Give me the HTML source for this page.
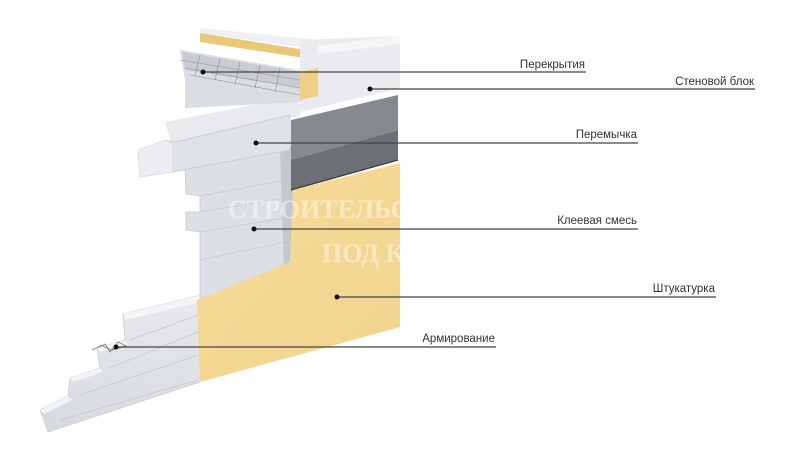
<!DOCTYPE html>
<html><head><meta charset="utf-8"><style>
html,body{margin:0;padding:0;background:#fff;}
svg{display:block;}
text{font-family:"Liberation Sans","DejaVu Sans",sans-serif;font-size:11.5px;fill:#333;}
</style></head><body>
<svg width="800" height="465" viewBox="0 0 800 465" xmlns="http://www.w3.org/2000/svg">
<defs>
<linearGradient id="lg" x1="0" y1="0" x2="0" y2="1"><stop offset="0" stop-color="#eceef1"/><stop offset="1" stop-color="#d6d9de"/></linearGradient>
<linearGradient id="yl" x1="0" y1="0" x2="1" y2="1"><stop offset="0" stop-color="#f5da98"/><stop offset="1" stop-color="#f2d48e"/></linearGradient>
</defs>
<!-- lower stepped wall -->
<polygon points="40,410 68,396 70,378 100,368 97,348 125,340 123,314 197,296 290,262 292,272 200,382 48,432" fill="url(#lg)" stroke="#c8ccd2" stroke-width="0.8"/>
<polygon points="123,314 197,296 290,262 292,268 200,302 125,320" fill="#f4f5f7"/>
<polygon points="40,410 68,396 72,400 44,414" fill="#f2f3f5"/>
<polygon points="70,378 100,368 103,372 73,382" fill="#f2f3f5"/>
<polygon points="97,348 125,340 128,344 100,352" fill="#f2f3f5"/>
<line x1="60" y1="420" x2="198" y2="380" stroke="#c3c7cd" stroke-width="0.7"/>
<line x1="80" y1="395" x2="198" y2="355" stroke="#c3c7cd" stroke-width="0.7"/>
<line x1="110" y1="368" x2="198" y2="332" stroke="#c3c7cd" stroke-width="0.7"/>
<line x1="130" y1="340" x2="198" y2="315" stroke="#c3c7cd" stroke-width="0.7"/>
<polyline points="92,350 105,344 110,352 118,342 126,346 112,350 100,345" fill="none" stroke="#777" stroke-width="0.8"/>
<!-- upper stepped blocks under lintel -->
<polygon points="185,168 285,150 290,270 200,300 200,232 186,230 186,212 200,212 200,196 186,194" fill="#dcdfe3" stroke="#c8ccd2" stroke-width="0.8"/>
<line x1="200" y1="196" x2="285" y2="180" stroke="#c6cad0" stroke-width="0.7"/>
<line x1="200" y1="212" x2="285" y2="198" stroke="#c6cad0" stroke-width="0.7"/>
<line x1="200" y1="232" x2="285" y2="218" stroke="#c6cad0" stroke-width="0.7"/>
<line x1="200" y1="260" x2="285" y2="242" stroke="#c6cad0" stroke-width="0.7"/>
<polygon points="280,150 295,145 296,266 284,270" fill="#c4c8ce"/>
<!-- lintel -->
<polygon points="165,122 290,98 300,104 300,116 172,146" fill="#e8eaee"/>
<polygon points="138,150 165,140 175,142 290,115 290,150 172,172 140,177" fill="#dfe2e6" stroke="#c6cad0" stroke-width="0.8"/>
<polygon points="138,150 165,140 172,146 172,172 140,177" fill="#eceef1"/>
<!-- top slab with grid -->
<polygon points="180,50 300,70 300,102 185,108 185,80" fill="#dadde2"/>
<polygon points="182,52 300,72 300,88 185,70" fill="#c9ccd1"/>
<g stroke="#8d9096" stroke-width="0.6">
<line x1="180" y1="60" x2="300" y2="80"/><line x1="185" y1="68" x2="300" y2="88"/><line x1="190" y1="75" x2="300" y2="95"/>
<line x1="200" y1="55" x2="195" y2="75"/><line x1="220" y1="58" x2="215" y2="80"/><line x1="240" y1="62" x2="235" y2="84"/><line x1="260" y1="65" x2="255" y2="88"/><line x1="280" y1="68" x2="275" y2="92"/>
</g>
<polygon points="200,33 318,52 318,60 200,42" fill="#e9c878"/>
<polygon points="200,28 320,40 320,50 200,33" fill="#eef0f3"/>
<!-- wall block top -->
<polygon points="300,40 400,36 400,88 300,112" fill="#e9ebee"/>
<polygon points="318,46 400,36 400,44 318,54" fill="#f5f6f8"/>
<polygon points="300,72 318,68 318,96 300,100" fill="#efcf85"/>
<!-- dark block -->
<polygon points="291,120 398,95 398,130 291,160" fill="#86898e"/>
<polygon points="291,160 398,130 398,160 291,190" fill="#6c6f74"/>
<line x1="291" y1="190" x2="398" y2="160" stroke="#3a3a3a" stroke-width="1.2"/>
<!-- plaster -->
<polygon points="293,190 400,163 400,327 200,382 197,300 290,262" fill="url(#yl)"/>
<!-- watermark -->
<g font-family="Liberation Serif, serif" font-weight="bold" fill="#ffffff" opacity="0.45">
<text x="228" y="218" style="font-size:26px;fill:#fff;font-family:'Liberation Serif',serif;font-weight:bold">СТРОИТЕЛЬС</text>
<text x="322" y="262" style="font-size:26px;fill:#fff;font-family:'Liberation Serif',serif;font-weight:bold">ПОД К</text>
</g>
<!-- leader lines -->
<g stroke="#444" stroke-width="1.2">
<line x1="203" y1="72" x2="586" y2="72"/>
<line x1="370" y1="89" x2="755" y2="89"/>
<line x1="256" y1="143" x2="638" y2="143"/>
<line x1="254" y1="229" x2="638" y2="229"/>
<line x1="337" y1="297" x2="716" y2="297"/>
<line x1="116" y1="347" x2="496" y2="347"/>
</g>
<g fill="#111">
<circle cx="203" cy="72" r="2.5"/><circle cx="370" cy="89" r="2.5"/><circle cx="256" cy="143" r="2.5"/>
<circle cx="254" cy="229" r="2.5"/><circle cx="337" cy="297" r="2.5"/><circle cx="116" cy="347" r="2.5"/>
</g>
<g text-anchor="end">
<text x="585" y="68">Перекрытия</text>
<text x="754" y="85">Стеновой блок</text>
<text x="637" y="138">Перемычка</text>
<text x="637" y="224">Клеевая смесь</text>
<text x="715" y="292">Штукатурка</text>
<text x="495" y="342">Армирование</text>
</g>
</svg>
</body></html>
